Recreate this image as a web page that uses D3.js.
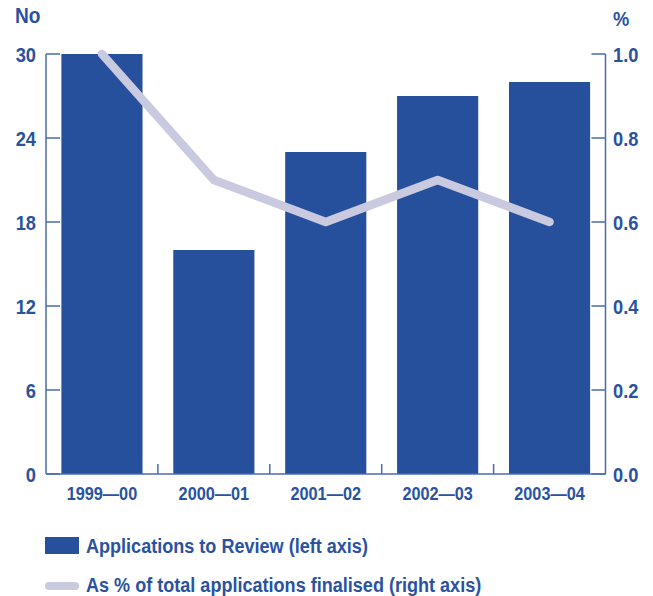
<!DOCTYPE html>
<html><head><meta charset="utf-8">
<script src="https://cdn.jsdelivr.net/npm/d3@7/dist/d3.min.js"></script>
<style>
body{margin:0;background:#fff;}
text{font-family:"Liberation Sans","Arial",sans-serif;font-weight:bold;fill:#2a52a0;}
</style></head><body>
<svg id="c" width="653" height="596"></svg>
<script>
const categories = ["1999\u201400","2000\u201401","2001\u201402","2002\u201403","2003\u201404"];
const applications = [30, 16, 23, 27, 28];
const percentFinalised = [1.0, 0.7, 0.6, 0.7, 0.6];
const leftTicks = [0, 6, 12, 18, 24, 30];
const rightTicks = [0, 0.2, 0.4, 0.6, 0.8, 1.0];

const svg = d3.select("#c");
const x0 = 46, x1 = 605.5, yTop = 54, yBot = 474;
const barColor = "#26509b", lineColor = "#c9c9e0", axisColor = "#4a6bb0";

const x = d3.scaleBand().domain(categories).range([x0, x1]).paddingInner(0.275).paddingOuter(0.1375);
const xb = d3.scaleBand().domain(categories).range([x0, x1]);
const yL = d3.scaleLinear().domain([0, 30]).range([yBot, yTop]);
const yR = d3.scaleLinear().domain([0, 1]).range([yBot, yTop]);

function txt(g, x, y, s, size, sx, anchor, dy) {
  return g.append("text")
    .attr("transform", `translate(${x},${y}) scale(${sx},1)`)
    .attr("text-anchor", anchor || "start")
    .attr("dy", dy || 0)
    .attr("font-size", size).text(s);
}

// bars
svg.append("g").selectAll("rect").data(applications).join("rect")
  .attr("x", (d,i) => x(categories[i]))
  .attr("width", x.bandwidth())
  .attr("y", d => yL(d))
  .attr("height", d => yBot - yL(d))
  .attr("fill", barColor);

// line
const line = d3.line().x((d,i) => xb(categories[i]) + xb.bandwidth()/2).y(d => yR(d));
svg.append("path").datum(percentFinalised).attr("d", line)
  .attr("fill","none").attr("stroke", lineColor).attr("stroke-width", 8.5)
  .attr("stroke-linecap","round").attr("stroke-linejoin","round");

// axes lines
const ax = svg.append("g").attr("stroke", axisColor).attr("stroke-width", 1.5).attr("fill","none");
ax.append("line").attr("x1", x0).attr("x2", x0).attr("y1", yTop).attr("y2", yBot);
ax.append("line").attr("x1", x1).attr("x2", x1).attr("y1", yTop).attr("y2", yBot);
ax.append("line").attr("x1", x0).attr("x2", x1).attr("y1", yBot).attr("y2", yBot);
leftTicks.forEach(t => ax.append("line").attr("x1", x0).attr("x2", x0+14).attr("y1", yL(t)).attr("y2", yL(t)));
rightTicks.forEach(t => ax.append("line").attr("x1", x1-14).attr("x2", x1).attr("y1", yR(t)).attr("y2", yR(t)));
categories.slice(1).forEach(c => ax.append("line").attr("x1", xb(c)).attr("x2", xb(c)).attr("y1", yBot-10).attr("y2", yBot));

// tick labels
const tg = svg.append("g");
leftTicks.forEach(t => txt(tg, 36, yL(t), String(t), 21, 0.87, "end", "0.36em"));
rightTicks.forEach(t => txt(tg, 613, yR(t), d3.format(".1f")(t), 21, 0.87, "start", "0.36em"));
categories.forEach(c => txt(tg, xb(c) + xb.bandwidth()/2, 500, c, 18.5, 0.88, "middle"));

txt(svg, 15, 23, "No", 22, 0.87);
txt(svg, 613, 26, "%", 21, 0.87);

// legend
svg.append("rect").attr("x", 45).attr("y", 537).attr("width", 34).attr("height", 17).attr("fill", barColor);
txt(svg, 86, 553, "Applications to Review (left axis)", 21, 0.86);
svg.append("line").attr("x1", 49).attr("x2", 75).attr("y1", 586).attr("y2", 586)
  .attr("stroke", lineColor).attr("stroke-width", 8).attr("stroke-linecap","round");
txt(svg, 86, 592, "As % of total applications finalised (right axis)", 21, 0.86);
</script></body></html>
